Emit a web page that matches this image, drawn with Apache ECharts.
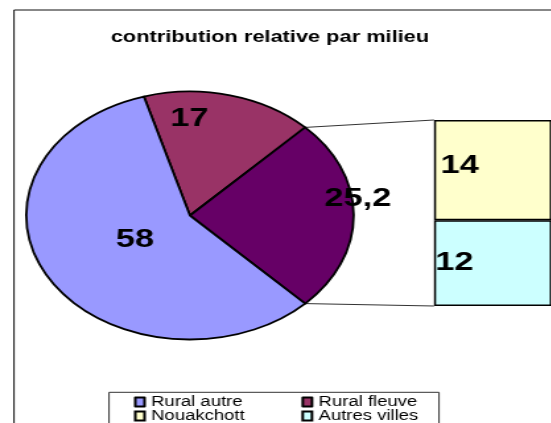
<!DOCTYPE html>
<html>
<head>
<meta charset="utf-8">
<style>
  html, body { margin: 0; padding: 0; background: #fff; overflow: hidden; }
  /* the reference picture is stretched sideways, so draw narrow and stretch it */
  #chart-container { width: 418px; height: 423px; transform: scaleX(1.32); transform-origin: 0 0; }
</style>
</head>
<body>
<div id="chart-container"></div>
<script src="https://cdn.jsdelivr.net/npm/echarts@6/dist/echarts.min.js"></script>
<script>
var titleText = "contribution relative par milieu";

var pieNames = ["Rural fleuve", "Autre", "Rural autre"];
var pieValues = [17, 25.2, 58];
var pieColors = ["#993366", "#660066", "#9999FF"];

var barNames = ["Nouakchott", "Autres villes"];
var barValues = [14, 12];
var barColors = ["#FFFFCC", "#CCFFFF"];

var legendRows = [["Rural autre", "Rural fleuve"], ["Nouakchott", "Autres villes"]];

var font = "Arial, 'Liberation Sans', sans-serif";
var cx = 143.9, cy = 215.5, R = 124;
var barLeft = 328.8;

var total = pieValues.reduce(function (a, b) { return a + b; }, 0);
var degs = pieValues.map(function (v) { return v / total * 360; });
// the "other" slice is centred on 3 o'clock
var startAngle = degs[0] + degs[1] / 2;
var startCw = 90 - startAngle; // clockwise from top

// label placement per slice (angle shift in degrees, distance as part of radius)
var labelShift = [-14.4, -7.4, 0];
var labelDist = [0.78, 1.035, 0.39];

function slicePoint(angleCw, f) {
  var a = angleCw * Math.PI / 180;
  return [cx + R * f * Math.sin(a), cy - R * f * Math.cos(a)];
}

function labelPoint(i) {
  var acc = startCw;
  for (var k = 0; k < i; k++) acc += degs[k];
  return slicePoint(acc + degs[i] / 2 + labelShift[i], labelDist[i]);
}

function fmt(v) {
  return String(v).replace(".", ",");
}

var dom = document.getElementById("chart-container");
var myChart = echarts.init(dom, null, { renderer: "canvas" });

var barTotal = barValues.reduce(function (a, b) { return a + b; }, 0);

var barSeries = [];
for (var i = barNames.length - 1; i >= 0; i--) {
  barSeries.push({
    name: barNames[i],
    type: "bar",
    stack: "autre",
    barWidth: "100%",
    data: [barValues[i]],
    itemStyle: { color: barColors[i], borderColor: "#000", borderWidth: 1.5 },
    label: {
      show: true,
      position: "insideLeft",
      distance: i === 0 ? 5 : 1,
      offset: i === 0 ? [0, -4] : [0, 0],
      fontSize: 26,
      fontWeight: "bold",
      fontFamily: font,
      color: "#000",
      formatter: function (p) { return fmt(p.value); }
    }
  });
}

var option = {
  animation: false,
  backgroundColor: "#fff",
  title: {
    text: titleText,
    left: 204.5,
    top: 29,
    textAlign: "center",
    padding: 0,
    textStyle: { fontSize: 16.5, fontWeight: "bold", color: "#000", fontFamily: font }
  },
  legend: legendRows.map(function (row, r) {
    return {
      data: row,
      left: 101.5,
      top: 395 + r * 14,
      padding: 0,
      icon: "rect",
      itemWidth: 7,
      itemHeight: 9,
      itemGap: r === 0 ? 44.6 : 43,
      selectedMode: false,
      itemStyle: { borderColor: "#000", borderWidth: 2 },
      textStyle: { fontSize: 14, color: "#000", fontFamily: font }
    };
  }),
  grid: { left: barLeft, top: 120, height: 186, width: 150 },
  xAxis: { type: "category", data: [""], show: false },
  yAxis: { type: "value", min: 0, max: barTotal, show: false },
  graphic: [
    {
      id: "frame",
      type: "rect",
      z: 0,
      silent: true,
      shape: { x: 10.6, y: 10, width: 1000, height: 1000 },
      style: { fill: "none", stroke: "#111", lineWidth: 1 }
    },
    {
      id: "legendBox",
      type: "rect",
      z: 0,
      silent: true,
      shape: { x: 82.6, y: 392.3, width: 250, height: 100 },
      style: { fill: "#fff", stroke: "#333", lineWidth: 1 }
    }
  ],
  series: [
    {
      type: "pie",
      center: [cx, cy],
      radius: R,
      startAngle: startAngle,
      clockwise: true,
      silent: true,
      data: pieNames.map(function (n, i) {
        return { name: n, value: pieValues[i], itemStyle: { color: pieColors[i] } };
      }),
      itemStyle: { borderColor: "#000", borderWidth: 1.8 },
      label: {
        show: true,
        position: "inside",
        fontSize: 26,
        fontWeight: "bold",
        fontFamily: font,
        color: "#000",
        formatter: function (p) { return fmt(p.value); }
      },
      labelLine: { show: false },
      labelLayout: function (params) {
        var p = labelPoint(params.dataIndex);
        return { x: p[0], y: p[1], align: "center", verticalAlign: "middle" };
      }
    }
  ].concat(barSeries)
};

myChart.setOption(option);

// connector lines from the "other" slice to the bar
var yTop = myChart.convertToPixel({ yAxisIndex: 0 }, barTotal);
var yBottom = myChart.convertToPixel({ yAxisIndex: 0 }, 0);
var p1 = slicePoint(startCw + degs[0], 1);
var p2 = slicePoint(startCw + degs[0] + degs[1], 1);
myChart.setOption({
  graphic: [
    {
      id: "lineTop",
      type: "line",
      silent: true,
      shape: { x1: p1[0], y1: p1[1], x2: barLeft, y2: yTop },
      style: { stroke: "#333", lineWidth: 1 }
    },
    {
      id: "lineBottom",
      type: "line",
      silent: true,
      shape: { x1: p2[0], y1: p2[1], x2: barLeft, y2: yBottom },
      style: { stroke: "#333", lineWidth: 1 }
    }
  ]
});

window.addEventListener("resize", myChart.resize);
</script>
</body>
</html>
